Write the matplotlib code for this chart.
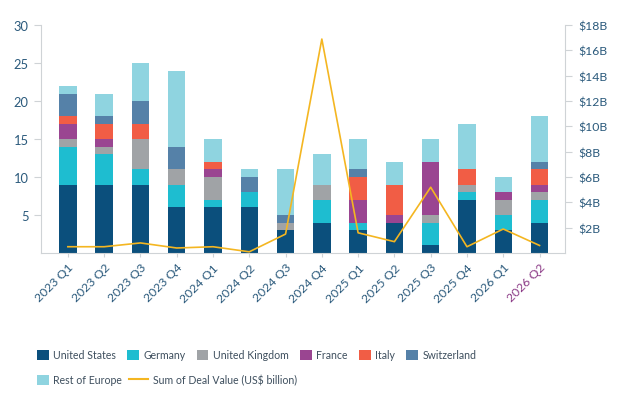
import matplotlib

matplotlib.use("Agg")
import matplotlib.pyplot as plt
import numpy as np
from matplotlib.lines import Line2D
from matplotlib.patches import Patch

quarters = [
    "2023 Q1", "2023 Q2", "2023 Q3", "2023 Q4",
    "2024 Q1", "2024 Q2", "2024 Q3", "2024 Q4",
    "2025 Q1", "2025 Q2", "2025 Q3", "2025 Q4",
    "2026 Q1", "2026 Q2",
]
united_states = [9, 9, 9, 6, 6, 6, 3, 4, 3, 4, 1, 7, 3, 4]
germany = [5, 4, 2, 3, 1, 2, 0, 3, 1, 0, 3, 1, 2, 3]
united_kingdom = [1, 1, 4, 2, 3, 0, 1, 2, 0, 0, 1, 1, 2, 1]
france = [2, 1, 0, 0, 1, 0, 0, 0, 3, 1, 7, 0, 1, 1]
italy = [1, 2, 2, 0, 1, 0, 0, 0, 3, 4, 0, 2, 0, 2]
switzerland = [3, 1, 3, 3, 0, 2, 1, 0, 1, 0, 0, 0, 0, 1]
rest_of_europe = [1, 3, 5, 10, 3, 1, 6, 4, 4, 3, 3, 6, 2, 6]
deal_value_bn = [0.5, 0.5, 0.8, 0.4, 0.5, 0.1, 1.5, 16.9, 1.6, 0.9, 5.2, 0.5, 1.9, 0.6]

series = [
    ("United States", united_states, "#0b4f7c"),
    ("Germany", germany, "#1ebdd0"),
    ("United Kingdom", united_kingdom, "#a0a3a6"),
    ("France", france, "#9a4591"),
    ("Italy", italy, "#f15d45"),
    ("Switzerland", switzerland, "#5581a8"),
    ("Rest of Europe", rest_of_europe, "#8fd4e0"),
]
LINE_LABEL = "Sum of Deal Value (US$ billion)"
LINE_COLOR = "#f4b621"
TICK_COLOR = "#2b5a7c"
SPINE_COLOR = "#cfd3d6"
HIGHLIGHT = "#8b3a86"
LEGEND_TEXT = "#3e4f5e"

plt.rcParams["font.family"] = ["Lato", "DejaVu Sans"]

fig = plt.figure(figsize=(6.27, 4.02), dpi=100)
ax = fig.add_axes([0.066, 0.368, 0.835, 0.567])

x = np.arange(len(quarters))
bottom = np.zeros(len(quarters))
for name, vals, color in series:
    vals = np.array(vals, dtype=float)
    ax.bar(x, vals, width=0.48, bottom=bottom, color=color, label=name, zorder=2)
    bottom += vals

ax.set_xlim(-0.73, len(quarters) - 1 + 0.7)
ax.set_ylim(0, 30)
ax.set_yticks([5, 10, 15, 20, 25, 30])
ax.set_xticks(x)
ax.set_xticklabels(quarters, rotation=45, ha="right", va="top", rotation_mode="anchor")
ax.tick_params(axis="x", length=3, color=SPINE_COLOR, labelcolor=TICK_COLOR,
               labelsize=8.8, pad=3)
ax.tick_params(axis="y", length=5, color=SPINE_COLOR, labelcolor=TICK_COLOR,
               labelsize=9.3, pad=4)
ax.get_xticklabels()[-1].set_color(HIGHLIGHT)
for side in ("top", "right"):
    ax.spines[side].set_visible(False)
for side in ("left", "bottom"):
    ax.spines[side].set_color(SPINE_COLOR)

ax2 = ax.twinx()
ax2.plot(x, deal_value_bn, color=LINE_COLOR, linewidth=1.2, zorder=3)
ax2.set_ylim(0, 18)
ax2.set_yticks(np.arange(2, 19, 2))
ax2.set_yticklabels([f"${v}B" for v in range(2, 19, 2)])
ax2.tick_params(axis="y", length=5, color=SPINE_COLOR, labelcolor=TICK_COLOR,
                labelsize=8.8, pad=5)
for side in ("top", "left", "bottom"):
    ax2.spines[side].set_visible(False)
ax2.spines["right"].set_color(SPINE_COLOR)

patches = {name: Patch(facecolor=color, edgecolor="none") for name, _, color in series}
legend_kw = dict(frameon=False, fontsize=7.6, handleheight=1.1, handletextpad=0.45,
                 borderaxespad=0, borderpad=0)

row1 = ["United States", "Germany", "United Kingdom", "France", "Italy", "Switzerland"]
leg1 = fig.legend([patches[n] for n in row1], row1, loc="center left",
                  bbox_to_anchor=(0.059, 0.115), ncol=6, handlelength=1.1,
                  columnspacing=1.05, **legend_kw)
leg2 = fig.legend([patches["Rest of Europe"]], ["Rest of Europe"], loc="center left",
                  bbox_to_anchor=(0.059, 0.053), handlelength=1.1, **legend_kw)
leg3 = fig.legend([Line2D([0], [0], color=LINE_COLOR, linewidth=1.5)], [LINE_LABEL],
                  loc="center left", bbox_to_anchor=(0.206, 0.053),
                  handlelength=1.8, **legend_kw)
for leg in (leg1, leg2, leg3):
    for t in leg.get_texts():
        t.set_color(LEGEND_TEXT)

fig.savefig("out.png", dpi=100, facecolor="white")
